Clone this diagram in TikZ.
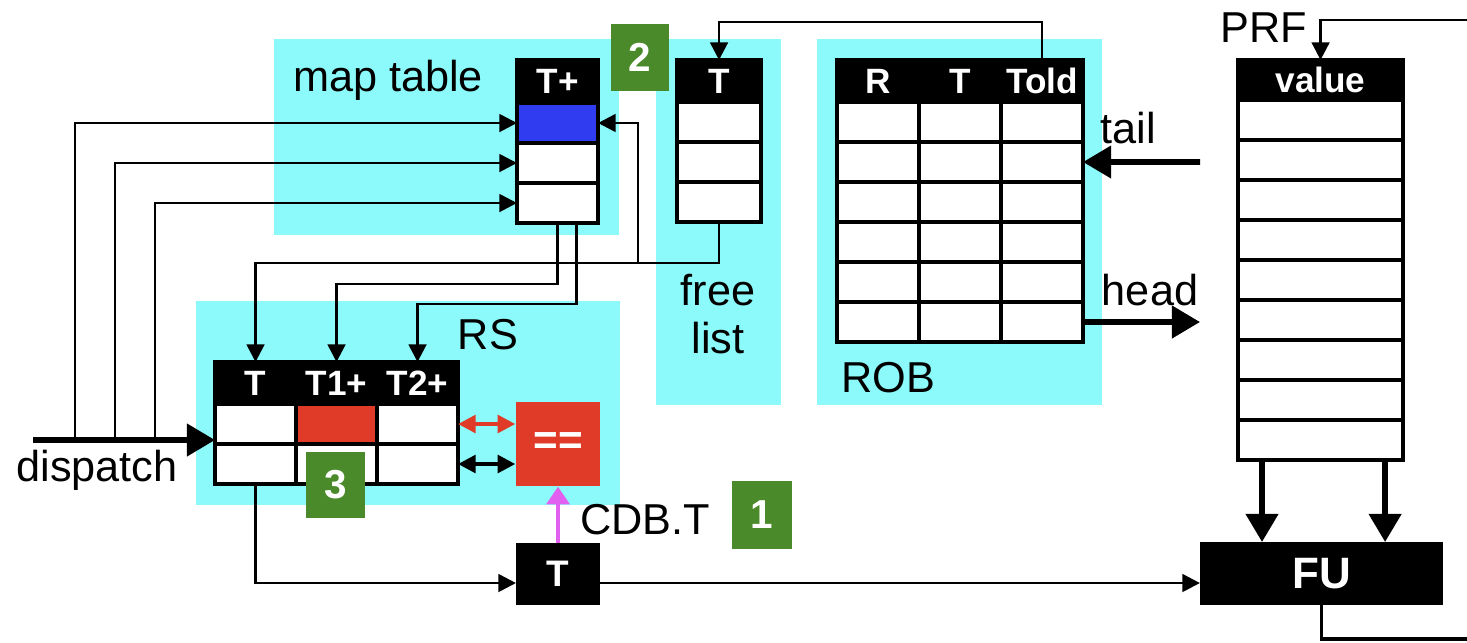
\documentclass[tikz,border=0pt]{standalone}
\usepackage{fontspec}
\setmainfont{Liberation Sans}
\usetikzlibrary{arrows.meta,positioning}
\definecolor{pool}{RGB}{140,250,250}
\definecolor{cellblue}{RGB}{48,60,240}
\definecolor{cmpred}{RGB}{224,58,40}
\definecolor{stepgreen}{RGB}{74,138,42}
\definecolor{cdbpink}{RGB}{226,96,240}
\tikzset{
  cell/.style={draw, fill=white, line width=1.1pt, inner sep=0pt, outer sep=0pt,
    anchor=north west, minimum height=0.4cm},
  hdr/.style={draw, fill=black, text=white, line width=1.1pt, inner sep=0pt, outer sep=0pt,
    anchor=north west, font=\bfseries\fontsize{10}{12}\selectfont},
  lbl/.style={inner sep=0pt, font=\fontsize{12.3}{13.7}\selectfont},
  badge/.style={fill=stepgreen, text=white, inner sep=0pt, minimum width=0.59cm,
    minimum height=0.66cm, font=\bfseries\fontsize{11.5}{14}\selectfont},
  blk/.style={fill=black, text=white, inner sep=0pt, outer sep=0pt},
  wire/.style={line width=0.8pt, ->},
  bus/.style={line width=1.6pt, -{Triangle[length=8pt,width=9pt]}},
}
\begin{document}
\begin{tikzpicture}[x=0.01cm, y=-0.01cm, >={Triangle[length=5pt,width=5pt]}]
    \useasboundingbox (0,0) rectangle (1467,642);
    % cyan areas
    \fill[pool] (274,39) rectangle (619,235);
    \fill[pool] (656,39) rectangle (781,405);
    \fill[pool] (817,39) rectangle (1102,405);
    \fill[pool] (196,301) rectangle (620,505);

    % map table
    \node[hdr, minimum width=0.81cm, minimum height=0.43cm] (maphd) at (517,60) {T+};
    \foreach \r/\c in {1/cellblue,2/white,3/white}
        \node[cell, fill=\c, minimum width=0.81cm] (map\r) at (517,{63+\r*40}) {};
    \node[lbl] (maplbl) at (388,80) {map table};

    % free list
    \node[hdr, minimum width=0.84cm, minimum height=0.42cm] (flhd) at (677,60) {T};
    \foreach \r in {1,2,3}
        \node[cell, minimum width=0.84cm] (fl\r) at (677,{62+\r*40}) {};
    \node[lbl, align=center] (fllbl) at (718,314) {free\\list};

    % ROB
    \foreach \c/\t in {1/R,2/T,3/Told}
        \node[hdr, minimum width=0.82cm, minimum height=0.42cm] (robhd\c) at ({755+\c*82},60) {\t};
    \foreach \r in {1,...,6}
        \foreach \c in {1,2,3}
            \node[cell, minimum width=0.82cm] (rob\r\c) at ({755+\c*82},{62+\r*40}) {};
    \node[lbl] (roblbl) at (888,378) {ROB};
    \node[lbl] (taillbl) at (1128,128) {tail};
    \node[lbl] (headlbl) at (1150,290) {head};

    % PRF
    \node[hdr, minimum width=1.65cm, minimum height=0.40cm] (prfhd) at (1238,60) {value};
    \foreach \r in {1,...,9}
        \node[cell, minimum width=1.65cm] (prf\r) at (1238,{60+\r*40}) {};
    \node[lbl] (prflbl) at (1264,28) {PRF};

    % RS
    \foreach \c/\t in {1/T,2/T1+,3/T2+}
        \node[hdr, minimum width=0.81cm, minimum height=0.42cm] (rshd\c) at ({134+\c*81},362) {\t};
    \foreach \r in {1,2}
        \foreach \c in {1,2,3}
            \node[cell, minimum width=0.81cm] (rs\r\c) at ({134+\c*81},{364+\r*40}) {};
    \node[cell, fill=cmpred, minimum width=0.81cm] at (rs12.north west) {};
    \node[lbl] (rslbl) at (488,335) {RS};
    \node[fill=cmpred, text=white, inner sep=0pt, minimum width=0.84cm, minimum height=0.84cm,
        font=\bfseries\fontsize{12}{14}\selectfont] (cmp) at (558,444) {==};

    % T latch and FU
    \node[blk, minimum width=0.84cm, minimum height=0.62cm,
        font=\bfseries\fontsize{10.5}{12}\selectfont] (tlatch) at (558,574) {T};
    \node[blk, minimum width=2.43cm, minimum height=0.63cm,
        font=\bfseries\fontsize{12.5}{14}\selectfont] (fu) at (1321.5,573.5) {FU};
    \node[lbl] (cdblbl) at (645,520) {CDB.T};
    \node[lbl] (displbl) at (97,470) {dispatch};

    % step numbers
    \node[badge, minimum width=0.57cm] (b2) at (640,57.5) {2};
    \node[badge] (b3) at (335.5,485) {3};
    \node[badge, minimum width=0.60cm, minimum height=0.68cm] (b1) at (762,515) {1};

    % dispatch into RS and map table
    \coordinate (dsrc) at (33,440);
    \draw[bus] (dsrc) -- (dsrc -| rs11.west);
    \foreach \x/\r in {75/1,115/2,155/3} {
        \coordinate (tap\r) at (\x,440);
        \draw[wire] (tap\r) |- (map\r.west);
    }

    % free list out
    \coordinate (fltap) at (638,263);
    \draw[wire] (fl3.south) -- ++(0,41) -| (rshd1.north);
    \draw[wire] (fltap) |- (map1.east);

    % map table out
    \draw[wire] (map3.south) -- ++(0,61) -| (rshd2.north);
    \draw[wire] ([xshift=0.19cm]map3.south) -- ++(0,81) -| (rshd3.north);

    % Told back to free list
    \draw[wire] (robhd3.north) -- ++(0,-38) -| (flhd.north);

    % tail and head
    \coordinate (tailsrc) at (1200,162);
    \coordinate (headdst) at (1200,322);
    \draw[bus] (tailsrc) -- (rob23.east);
    \draw[bus] (rob63.east) -- (headdst);

    % PRF in and out
    \coordinate (prfin) at (1467,20);
    \draw[wire] (prfin) -| (prfhd.north);
    \draw[bus] ([xshift=0.24cm]prf9.south west) -- ([xshift=0.24cm]prf9.south west |- fu.north);
    \draw[bus] ([xshift=-0.18cm]prf9.south east) -- ([xshift=-0.18cm]prf9.south east |- fu.north);
    \coordinate (fuout) at (1467,639);
    \draw[line width=1pt] (fu.south) |- (fuout);

    % RS to T latch to FU
    \draw[wire] (rs21.south) |- ([yshift=-0.09cm]tlatch.west);
    \draw[wire] ([yshift=-0.09cm]tlatch.east) -- ([yshift=-0.09cm]tlatch.east -| fu.west);

    % CDB.T and compare
    \draw[cdbpink, line width=1.1pt, -{Triangle[length=5pt,width=6.5pt]}] (tlatch.north) -- (cmp.south);
    \draw[wire, <->, cmpred, line width=1.1pt] (rs13.east) -- (rs13.east -| cmp.west);
    \draw[wire, <->, line width=1.1pt] (rs23.east) -- (rs23.east -| cmp.west);
\end{tikzpicture}
\end{document}
